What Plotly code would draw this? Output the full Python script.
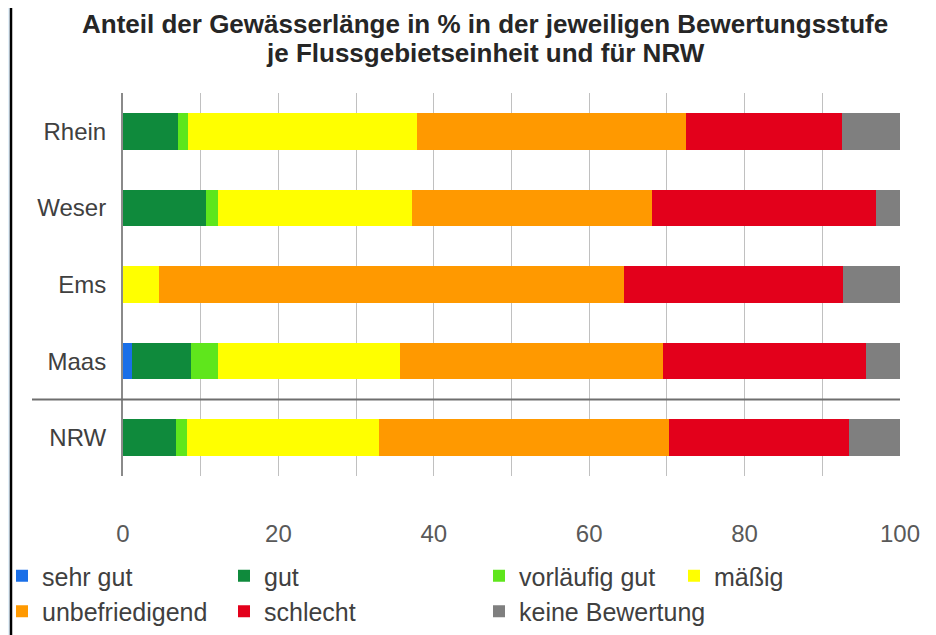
import plotly.graph_objects as go

categories = ["Rhein", "Weser", "Ems", "Maas", "NRW"]
series_names = ["sehr gut", "gut", "vorläufig gut", "mäßig",
                "unbefriedigend", "schlecht", "keine Bewertung"]
sehr_gut = [0.0, 0.0, 0.0, 1.1, 0.0]
gut = [7.1, 10.7, 0.0, 7.6, 6.8]
vorlaeufig_gut = [1.3, 1.5, 0.0, 3.5, 1.5]
maessig = [29.4, 25.0, 4.6, 23.4, 24.7]
unbefriedigend = [34.6, 30.9, 59.9, 33.9, 37.3]
schlecht = [20.1, 28.8, 28.1, 26.1, 23.1]
keine_bewertung = [7.5, 3.1, 7.4, 4.4, 6.6]
x_ticks = [0, 20, 40, 60, 80, 100]

series_values = [sehr_gut, gut, vorlaeufig_gut, maessig,
                 unbefriedigend, schlecht, keine_bewertung]
colors = ["#1a6fe8", "#0f8a3c", "#5fe61c", "#ffff00",
          "#ff9900", "#e3001b", "#7f7f7f"]
legend_ids = ["legend", "legend2", "legend3", "legend4",
              "legend", "legend2", "legend3"]

# page has an 8px body margin -> figure pixel = screen pixel - 8
OFF = 8
W, H = 936 - OFF, 635 - OFF
L, R, T, B = 123 - OFF, 900 - OFF, 93 - OFF, 476 - OFF
pw, ph = R - L, B - T

def px_x(sx):
    return (sx - OFF - L) / pw

def px_y(sy):
    return (B - (sy - OFF)) / ph

fig = go.Figure()
for name, vals, col, lg in zip(series_names, series_values, colors, legend_ids):
    fig.add_trace(go.Bar(
        y=categories, x=vals, name=name, orientation="h",
        marker=dict(color=col, line=dict(width=0)),
        legend=lg, legendgroup=name,
    ))

font_fam = "Liberation Sans, Arial, sans-serif"
txt_col = "#404040"

legend_common = dict(
    xref="paper", yref="container", xanchor="left", yanchor="top",
    orientation="v", bgcolor="rgba(0,0,0,0)", borderwidth=0,
    font=dict(family=font_fam, size=25, color=txt_col),
    tracegroupgap=0, itemwidth=30, traceorder="normal",
)
leg_top = 545
leg_y = 1 - leg_top / H
# screen x where each legend column's text begins
legend_text_x = [42, 264, 519, 714]
legend_x = [px_x(t - 40) for t in legend_text_x]

fig.update_layout(
    width=W, height=H,
    margin=dict(l=L, r=W - R, t=T, b=H - B, pad=0, autoexpand=False),
    paper_bgcolor="#ffffff",
    plot_bgcolor="rgba(0,0,0,0)",
    barmode="stack",
    bargap=0.52,
    font=dict(family=font_fam, color=txt_col),
    legend=dict(x=legend_x[0], y=leg_y, **legend_common),
    legend2=dict(x=legend_x[1], y=leg_y, **legend_common),
    legend3=dict(x=legend_x[2], y=leg_y, **legend_common),
    legend4=dict(x=legend_x[3], y=leg_y, **legend_common),
    xaxis=dict(
        range=[0, 100], tickvals=x_ticks, showgrid=True,
        gridcolor="#c0c0c0", gridwidth=1,
        minor=dict(dtick=10, showgrid=True, gridcolor="#c0c0c0", gridwidth=1),
        zeroline=False, showline=False, ticks="",
        tickfont=dict(family=font_fam, size=24, color="#595959"),
        ticklabelstandoff=41, fixedrange=True, automargin=False,
        tickangle=0,
    ),
    yaxis=dict(
        categoryorder="array", categoryarray=categories,
        autorange="reversed",
        showgrid=False, zeroline=False,
        showline=True, linecolor="#8a8a8a", linewidth=2,
        ticks="", ticklabelstandoff=10,
        tickfont=dict(family=font_fam, size=24, color=txt_col),
        fixedrange=True, automargin=False,
    ),
    shapes=[
        dict(type="rect", xref="paper", yref="paper",
             x0=px_x(0), x1=px_x(10), y0=px_y(700), y1=px_y(-20),
             line=dict(width=0), fillcolor="#e4f1fb", layer="above"),
        dict(type="line", xref="paper", yref="paper",
             x0=px_x(11), x1=px_x(11), y0=px_y(700), y1=px_y(-20),
             line=dict(color="#000000", width=2.5), layer="above"),
        dict(type="line", xref="paper", yref="y",
             x0=px_x(32), x1=1, y0=3.5, y1=3.5,
             line=dict(color="#6e6e6e", width=2), layer="above"),
    ],
    annotations=[
        dict(text="<b>Anteil der Gewässerlänge in % in der jeweiligen Bewertungsstufe</b>",
             xref="paper", yref="paper", x=px_x(485), y=px_y(24),
             xanchor="center", yanchor="middle", showarrow=False,
             font=dict(family=font_fam, size=26, color="#262626")),
        dict(text="<b>je Flussgebietseinheit und für NRW</b>",
             xref="paper", yref="paper", x=px_x(485), y=px_y(53),
             xanchor="center", yanchor="middle", showarrow=False,
             font=dict(family=font_fam, size=26, color="#262626")),
    ],
)

fig.write_html("out.html")
